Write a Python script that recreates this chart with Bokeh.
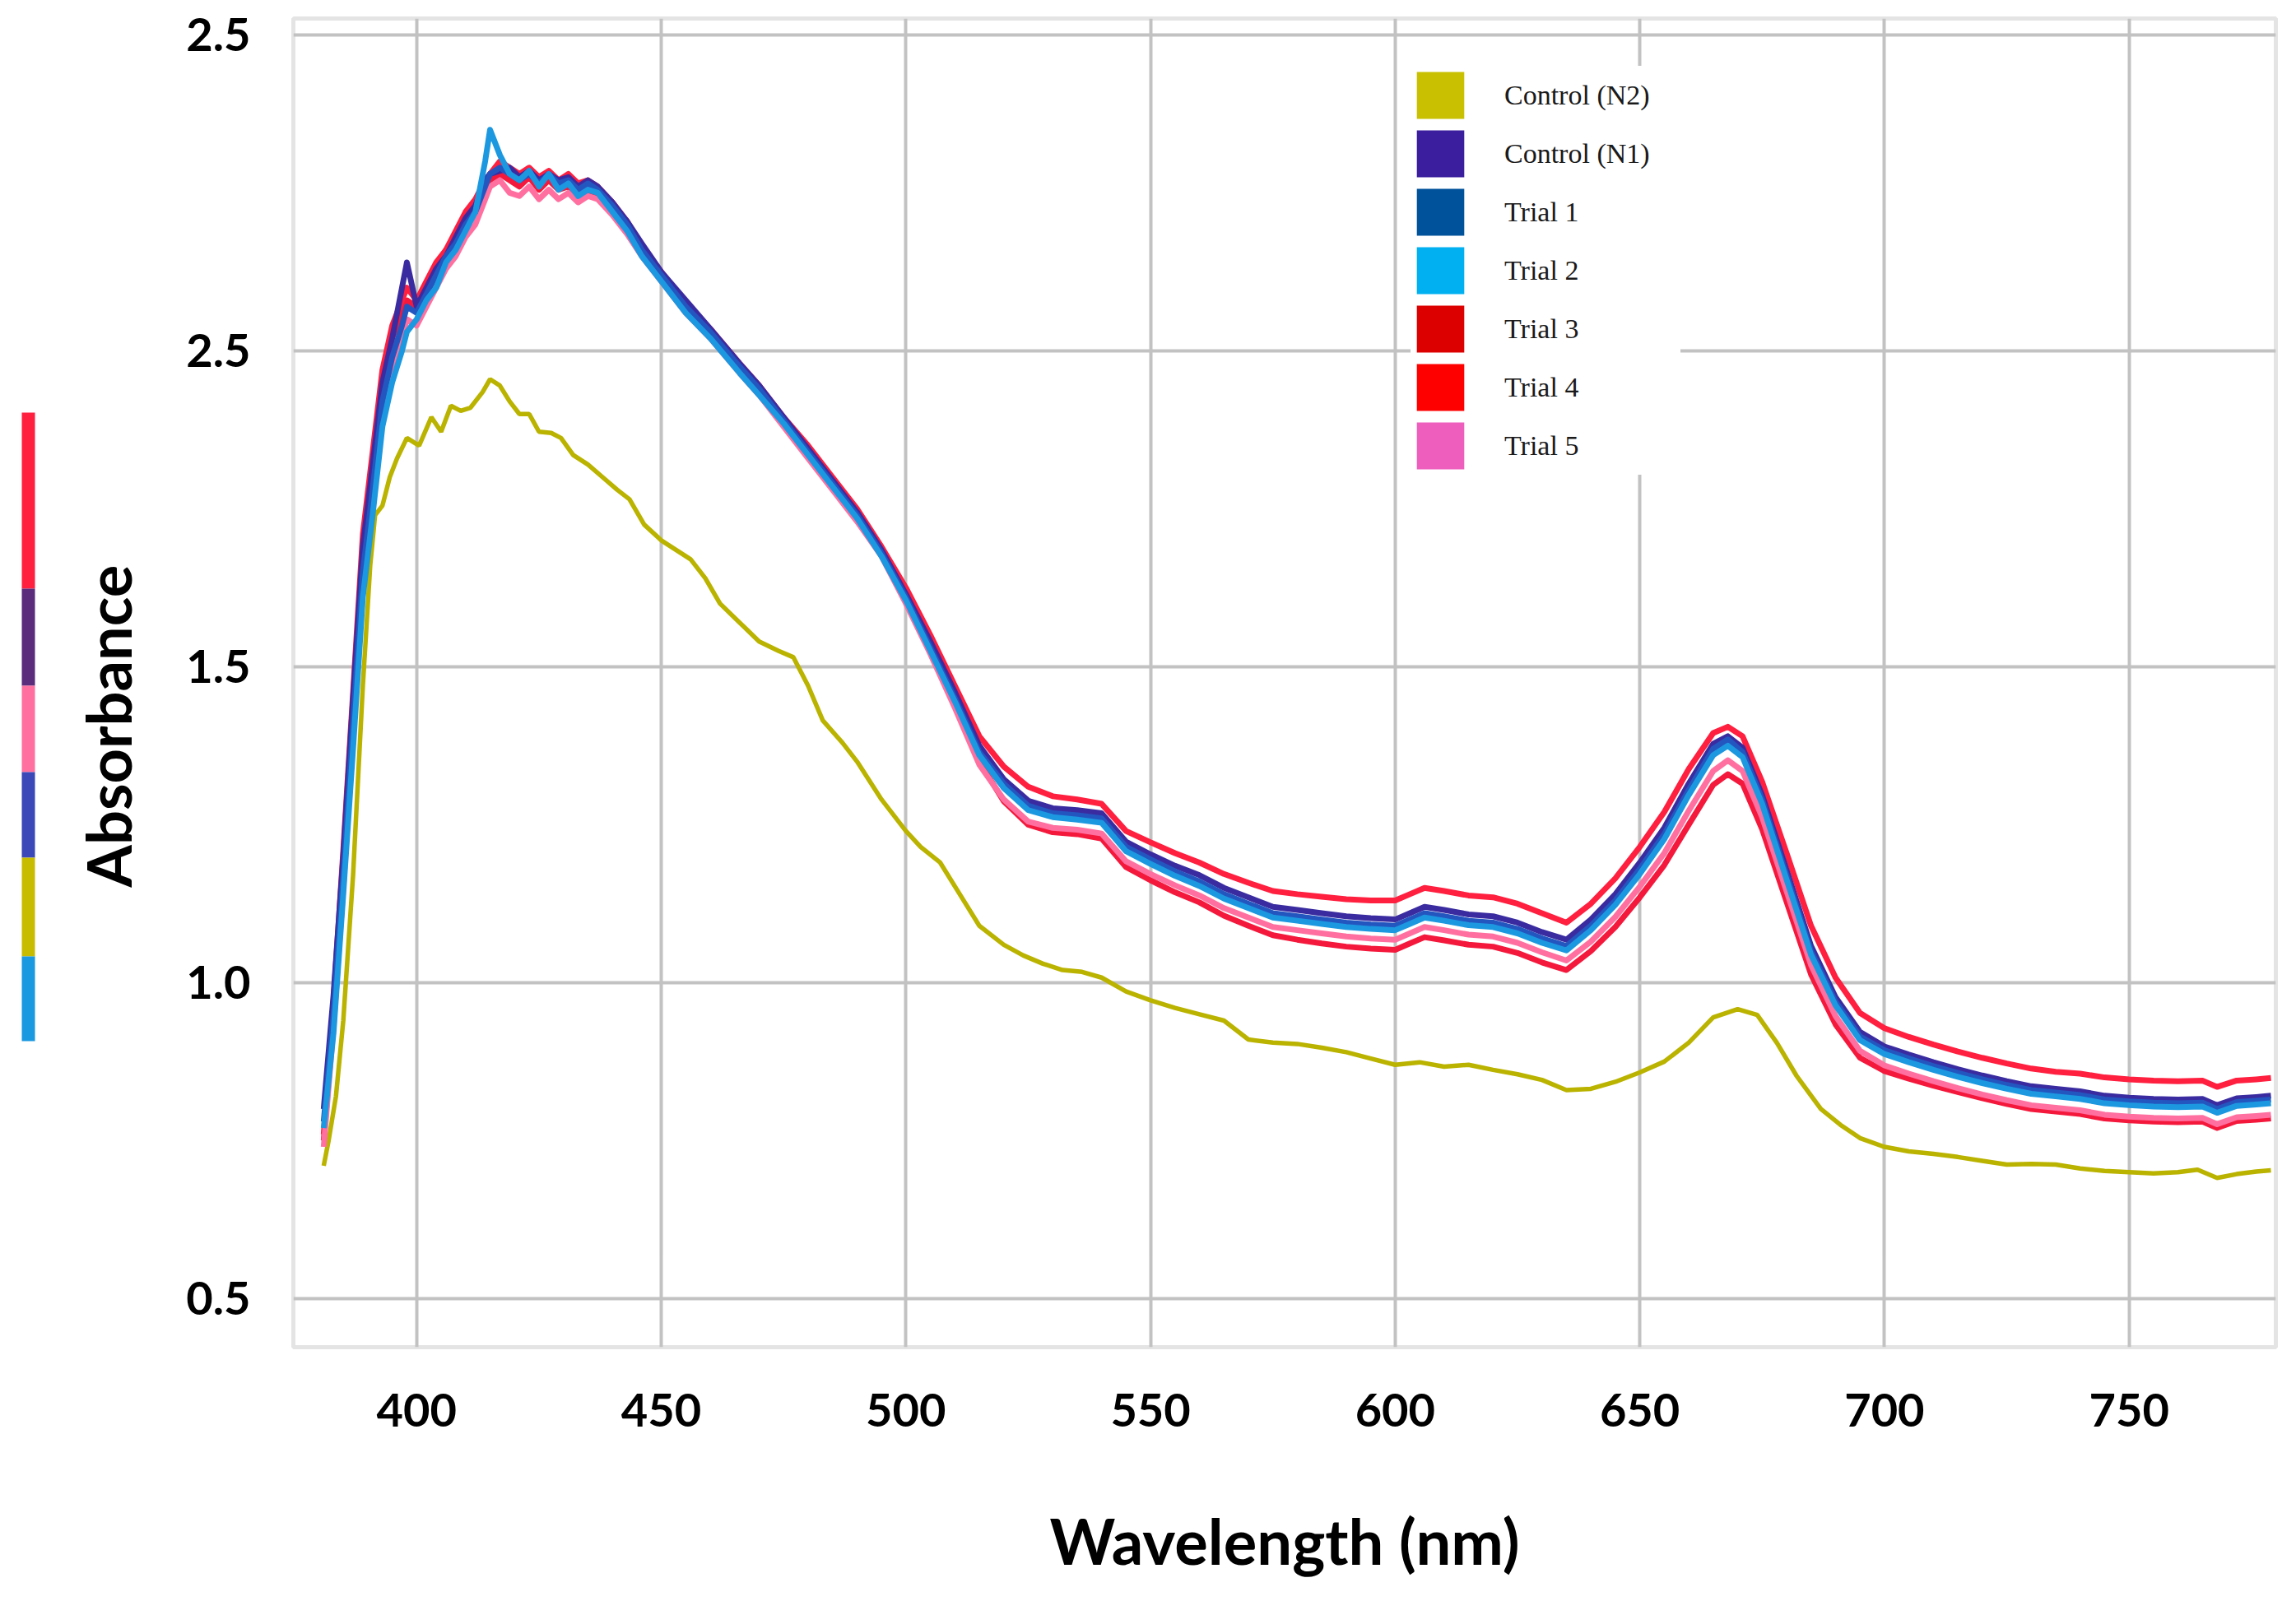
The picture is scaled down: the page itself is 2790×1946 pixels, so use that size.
import math

from bokeh.plotting import figure
from bokeh.layouts import row
from bokeh.models import Range1d, FixedTicker, PrintfTickFormatter, Legend, LegendItem
from bokeh.core.properties import value
from bokeh.embed import file_html
from bokeh.resources import INLINE

# ---- data ----
series_names = ["Control (N2)", "Control (N1)", "Trial 1", "Trial 2", "Trial 3", "Trial 4", "Trial 5"]
legend_colors = ["#c8c000", "#3a1e9e", "#00529a", "#00b0f0", "#dc0000", "#ff0000", "#ee5fbd"]

x_ticks = [400, 450, 500, 550, 600, 650, 700, 750]
y_ticks = [0.5, 1.0, 1.5, 2.0, 2.5]
y_tick_labels = ["0.5", "1.0", "1.5", "2.5", "2.5"]

# Control (N2) has its own sampling
wl_n2 = [381, 382, 383.5, 385, 387, 389, 390.5, 391.5, 393, 394.5,
         396, 398, 400.5, 403, 405, 407, 409, 411, 413.5, 415,
         417, 419, 421, 423, 425, 427.5, 429.5, 432, 435, 438,
         441, 443.5, 446.5, 450, 453, 456, 459, 462, 466, 470,
         474, 477, 480, 483, 487, 490, 495, 500, 503, 507,
         511, 515, 520, 524, 528, 532, 536, 540, 545, 550,
         555, 560, 565, 570, 575, 580, 585, 590, 595, 600,
         605, 610, 615, 620, 625, 630, 635, 640, 645, 650,
         655, 660, 665, 670, 674, 678, 682, 687, 691, 695,
         700, 705, 710, 715, 720, 725, 730, 735, 740, 745,
         750, 755, 760, 764, 768, 772, 776, 779]
abs_n2 = [0.71, 0.75, 0.82, 0.94, 1.17, 1.47, 1.66, 1.74, 1.755, 1.80,
          1.83, 1.862, 1.85, 1.895, 1.872, 1.913, 1.905, 1.91, 1.935, 1.955,
          1.945, 1.92, 1.90, 1.90, 1.872, 1.87, 1.862, 1.835, 1.82, 1.80,
          1.78, 1.765, 1.725, 1.70, 1.685, 1.67, 1.64, 1.60, 1.57, 1.54,
          1.525, 1.515, 1.47, 1.415, 1.38, 1.35, 1.29, 1.24, 1.215, 1.19,
          1.14, 1.09, 1.06, 1.043, 1.03, 1.02, 1.017, 1.008, 0.986, 0.972,
          0.96, 0.95, 0.94, 0.91, 0.905, 0.903, 0.897, 0.89, 0.88, 0.87,
          0.874, 0.867, 0.87, 0.862, 0.855, 0.846, 0.83, 0.832, 0.843, 0.858,
          0.875, 0.905, 0.945, 0.958, 0.949, 0.905, 0.853, 0.80, 0.775, 0.754,
          0.74, 0.733, 0.729, 0.724, 0.718, 0.712, 0.713, 0.712, 0.706, 0.702,
          0.70, 0.698, 0.70, 0.704, 0.691, 0.697, 0.701, 0.703]

# the other six share one sampling
wl = [381, 383, 385, 387, 389, 391, 393, 395, 397, 398,
      400, 402, 404, 406, 408, 410, 412, 414, 415, 417,
      419, 421, 423, 425, 427, 429, 431, 433, 435, 437,
      440, 443, 446, 450, 455, 460, 466, 470, 475, 480,
      485, 490, 495, 500, 505, 510, 515, 520, 525, 530,
      535, 540, 545, 550, 555, 560, 565, 570, 575, 580,
      585, 590, 595, 600, 603, 606, 610, 615, 620, 625,
      630, 635, 640, 645, 650, 655, 660, 665, 668, 671,
      675, 680, 685, 690, 695, 700, 705, 710, 715, 720,
      725, 730, 735, 740, 745, 750, 755, 760, 765, 768,
      772, 776, 779]

abs_n1 = [0.80, 0.98, 1.20, 1.45, 1.69, 1.82, 1.95, 2.02, 2.10, 2.14,
          2.07, 2.10, 2.13, 2.15, 2.18, 2.21, 2.23, 2.27, 2.28, 2.285,
          2.29, 2.275, 2.285, 2.27, 2.28, 2.27, 2.275, 2.26, 2.27, 2.26,
          2.235, 2.205, 2.17, 2.125, 2.08, 2.035, 1.98, 1.945, 1.895, 1.845,
          1.795, 1.745, 1.685, 1.615, 1.54, 1.46, 1.375, 1.322, 1.288, 1.276,
          1.273, 1.268, 1.223, 1.203, 1.185, 1.17, 1.15, 1.135, 1.12, 1.115,
          1.11, 1.105, 1.102, 1.10, 1.11, 1.12, 1.115, 1.108, 1.105, 1.095,
          1.08, 1.068, 1.10, 1.14, 1.19, 1.245, 1.315, 1.378, 1.39, 1.372,
          1.297, 1.178, 1.058, 0.977, 0.922, 0.899, 0.886, 0.874, 0.863, 0.853,
          0.844, 0.836, 0.832, 0.828, 0.821, 0.818, 0.816, 0.815, 0.816, 0.806,
          0.817, 0.819, 0.821]

abs_t1 = [0.78, 0.95, 1.17, 1.41, 1.65, 1.78, 1.92, 1.99, 2.04, 2.07,
          2.06, 2.09, 2.12, 2.15, 2.17, 2.20, 2.22, 2.26, 2.28, 2.29,
          2.28, 2.27, 2.28, 2.265, 2.28, 2.265, 2.27, 2.255, 2.265, 2.255,
          2.23, 2.20, 2.16, 2.12, 2.07, 2.03, 1.975, 1.94, 1.89, 1.84,
          1.79, 1.74, 1.68, 1.61, 1.53, 1.45, 1.365, 1.315, 1.28, 1.268,
          1.265, 1.26, 1.215, 1.195, 1.176, 1.16, 1.14, 1.125, 1.11, 1.105,
          1.10, 1.095, 1.092, 1.09, 1.10, 1.11, 1.105, 1.098, 1.095, 1.085,
          1.07, 1.058, 1.09, 1.13, 1.18, 1.235, 1.305, 1.37, 1.385, 1.365,
          1.29, 1.17, 1.05, 0.97, 0.915, 0.893, 0.88, 0.868, 0.857, 0.847,
          0.838, 0.830, 0.826, 0.822, 0.815, 0.812, 0.810, 0.809, 0.810, 0.800,
          0.811, 0.813, 0.815]

abs_t2 = [0.77, 0.92, 1.14, 1.37, 1.61, 1.74, 1.88, 1.95, 2.00, 2.03,
          2.05, 2.08, 2.10, 2.14, 2.16, 2.19, 2.22, 2.30, 2.35, 2.31,
          2.28, 2.27, 2.285, 2.26, 2.28, 2.255, 2.265, 2.245, 2.255, 2.25,
          2.22, 2.19, 2.15, 2.11, 2.06, 2.02, 1.965, 1.93, 1.885, 1.835,
          1.785, 1.735, 1.675, 1.605, 1.525, 1.445, 1.36, 1.308, 1.273, 1.262,
          1.258, 1.253, 1.208, 1.188, 1.169, 1.153, 1.133, 1.118, 1.103, 1.098,
          1.093, 1.088, 1.085, 1.083, 1.093, 1.103, 1.098, 1.091, 1.088, 1.078,
          1.063, 1.051, 1.083, 1.123, 1.172, 1.227, 1.297, 1.36, 1.375, 1.357,
          1.283, 1.163, 1.044, 0.964, 0.909, 0.887, 0.874, 0.862, 0.851, 0.841,
          0.832, 0.824, 0.82, 0.816, 0.809, 0.806, 0.804, 0.803, 0.804, 0.794,
          0.805, 0.807, 0.809]

abs_t3 = [0.75, 0.94, 1.18, 1.43, 1.68, 1.81, 1.95, 2.02, 2.06, 2.08,
          2.07, 2.10, 2.13, 2.16, 2.18, 2.21, 2.23, 2.26, 2.27, 2.28,
          2.27, 2.26, 2.275, 2.255, 2.27, 2.255, 2.26, 2.245, 2.255, 2.245,
          2.22, 2.19, 2.155, 2.115, 2.065, 2.025, 1.97, 1.935, 1.885, 1.84,
          1.79, 1.74, 1.68, 1.61, 1.525, 1.44, 1.35, 1.287, 1.25, 1.238,
          1.235, 1.228, 1.183, 1.162, 1.143, 1.127, 1.106, 1.09, 1.075, 1.068,
          1.062, 1.057, 1.054, 1.052, 1.062, 1.072, 1.067, 1.06, 1.057, 1.047,
          1.032, 1.02, 1.05, 1.088, 1.135, 1.186, 1.25, 1.313, 1.33, 1.315,
          1.243, 1.128, 1.013, 0.934, 0.881, 0.86, 0.848, 0.837, 0.827, 0.817,
          0.808, 0.80, 0.796, 0.792, 0.785, 0.782, 0.78, 0.779, 0.78, 0.77,
          0.781, 0.783, 0.785]

abs_t4 = [0.76, 0.97, 1.21, 1.46, 1.71, 1.84, 1.97, 2.04, 2.08, 2.10,
          2.08, 2.11, 2.14, 2.16, 2.19, 2.22, 2.24, 2.27, 2.28, 2.30,
          2.29, 2.28, 2.29, 2.275, 2.285, 2.27, 2.28, 2.265, 2.27, 2.26,
          2.235, 2.205, 2.165, 2.125, 2.075, 2.035, 1.98, 1.945, 1.895, 1.85,
          1.80, 1.75, 1.69, 1.625, 1.55, 1.47, 1.39, 1.342, 1.31, 1.295,
          1.29, 1.283, 1.24, 1.222, 1.205, 1.19, 1.172, 1.158, 1.145, 1.14,
          1.136, 1.132, 1.13, 1.13, 1.14, 1.15, 1.145, 1.138, 1.135, 1.125,
          1.11, 1.095, 1.125, 1.165, 1.215, 1.27, 1.338, 1.395, 1.405, 1.39,
          1.318, 1.205, 1.09, 1.008, 0.952, 0.928, 0.914, 0.902, 0.891, 0.881,
          0.872, 0.864, 0.859, 0.856, 0.85, 0.847, 0.845, 0.844, 0.845, 0.835,
          0.845, 0.847, 0.849]

abs_t5 = [0.74, 0.93, 1.15, 1.39, 1.63, 1.77, 1.90, 1.97, 2.02, 2.05,
          2.04, 2.07, 2.10, 2.13, 2.15, 2.18, 2.20, 2.24, 2.26, 2.27,
          2.25, 2.245, 2.26, 2.24, 2.255, 2.24, 2.25, 2.235, 2.245, 2.24,
          2.215, 2.185, 2.15, 2.11, 2.06, 2.02, 1.965, 1.93, 1.88, 1.83,
          1.78, 1.73, 1.675, 1.60, 1.52, 1.435, 1.345, 1.29, 1.255, 1.245,
          1.242, 1.236, 1.192, 1.172, 1.154, 1.138, 1.118, 1.103, 1.088, 1.083,
          1.078, 1.073, 1.07, 1.068, 1.078, 1.088, 1.083, 1.076, 1.073, 1.063,
          1.048, 1.035, 1.065, 1.104, 1.152, 1.205, 1.272, 1.335, 1.352, 1.335,
          1.262, 1.145, 1.028, 0.947, 0.892, 0.869, 0.856, 0.844, 0.833, 0.823,
          0.814, 0.806, 0.802, 0.798, 0.791, 0.788, 0.786, 0.785, 0.786, 0.776,
          0.787, 0.789, 0.791]

# colour strip at the far left (leftover rotated key)
strip_colors = ["#ff2040", "#5b2c7c", "#ff70a0", "#3a48b8", "#c8bc00", "#1a98e0"]
STRIP_EDGES = [501, 715, 833, 938, 1042, 1162, 1265]

TOTAL_W, TOTAL_H = 2774, 1930
STRIP_W = 190
TOP, BOTTOM = 22, 293

# ---- main plot ----
p = figure(width=TOTAL_W - STRIP_W, height=TOTAL_H,
           x_range=Range1d(374.8, 780.0), y_range=Range1d(0.423, 2.526),
           output_backend="svg", toolbar_location=None,
           min_border_left=166, min_border_right=9,
           min_border_top=TOP, min_border_bottom=BOTTOM)
p.background_fill_color = "white"
p.border_fill_color = "white"
p.outline_line_color = "#e4e4e4"
p.outline_line_width = 5

p.xaxis.ticker = FixedTicker(ticks=x_ticks)
p.yaxis.ticker = FixedTicker(ticks=y_ticks)
p.yaxis.formatter = PrintfTickFormatter(format="%.1f")
p.yaxis.major_label_overrides = dict(zip(y_ticks, y_tick_labels))

for ax in (p.xaxis, p.yaxis):
    ax.axis_line_color = None
    ax.major_tick_line_color = None
    ax.minor_tick_line_color = None
    ax.major_tick_out = 0
    ax.major_tick_in = 0
    ax.major_label_text_font = "Lato"
    ax.major_label_text_font_style = "bold"
    ax.major_label_text_font_size = "56px"
    ax.major_label_text_color = "black"
p.xaxis.major_label_standoff = 56
p.yaxis.major_label_standoff = 52

p.xaxis.axis_label = "Wavelength (nm)"
p.xaxis.axis_label_text_font = "Lato"
p.xaxis.axis_label_text_font_style = "bold"
p.xaxis.axis_label_text_font_size = "76px"
p.xaxis.axis_label_text_color = "black"
p.xaxis.axis_label_standoff = 90

p.grid.grid_line_color = "#c2c2c2"
p.grid.grid_line_width = 4

p.line(wl_n2, abs_n2, line_color="#bab300", line_width=5.5)
group = [(abs_t3, "#f4193c"), (abs_t4, "#ff1f3f"), (abs_t5, "#ff70a0"),
         (abs_n1, "#3a2ca0"), (abs_t1, "#2456c0"), (abs_t2, "#1c98e0")]
for ys, col in group:
    p.line(wl, ys, line_color=col, line_width=7, line_join="round")

# legend swatches: one-row sources with NaN, so nothing lands in the frame
nan = float("nan")
items = []
for name, col in zip(series_names, legend_colors):
    r = p.quad(left=[nan], right=[nan], top=[nan], bottom=[nan],
               fill_color=col, line_color=None)
    items.append(LegendItem(label=value(name), renderers=[r]))

legend = Legend(items=items, location=(1358, 1060), margin=0, padding=11,
                spacing=0, glyph_width=72, glyph_height=71, label_standoff=42,
                label_width=214, label_text_font="Liberation Serif",
                label_text_font_size="34px", label_text_color="#1a1a1a",
                border_line_color=None, background_fill_color="white",
                background_fill_alpha=1.0)
p.add_layout(legend)

# ---- left strip with the y title (canvas pixel coordinates) ----
s = figure(width=STRIP_W, height=TOTAL_H,
           x_range=Range1d(0, STRIP_W), y_range=Range1d(TOTAL_H - BOTTOM, TOP),
           output_backend="svg", toolbar_location=None,
           min_border_left=0, min_border_right=0,
           min_border_top=TOP, min_border_bottom=BOTTOM,
           x_axis_type=None, y_axis_type=None)
s.outline_line_color = None
s.grid.visible = False
s.quad(left=26, right=42, top=STRIP_EDGES[:-1], bottom=STRIP_EDGES[1:],
       fill_color=strip_colors, line_color=None)
s.text(x=[131], y=[882], text=["Absorbance"], angle=math.pi / 2,
       text_align="center", text_baseline="middle",
       text_font=value("Lato"), text_font_style="bold",
       text_font_size="74px", text_color="black")

layout = row(s, p)
open("out.html", "w").write(file_html(layout, INLINE))
